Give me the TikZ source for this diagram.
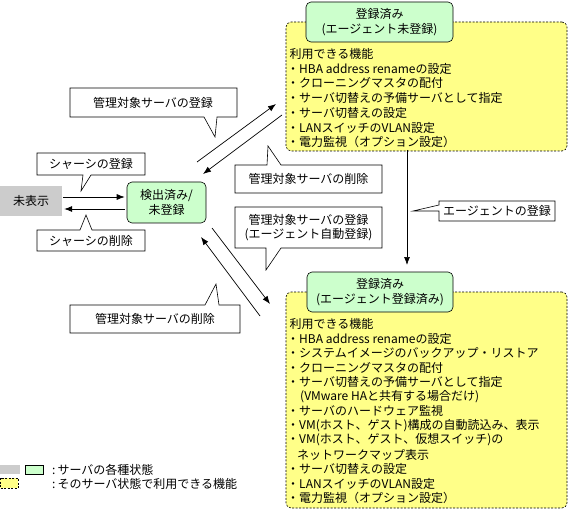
\documentclass[tikz,border=0pt]{standalone}
\usepackage{fontspec}
\setmainfont{Noto Sans CJK JP}
\usetikzlibrary{arrows.meta}
\definecolor{stgreen}{HTML}{CCFFCC}
\definecolor{fnyellow}{HTML}{FFFF88}
\definecolor{stgray}{HTML}{CCCCCC}
\begin{document}
\begin{tikzpicture}[x=1pt,y=-1pt,
  txt/.style={font=\fontsize{12}{14.5}\selectfont, inner sep=0pt},
  item/.style={txt, anchor=west},
  callout/.style={draw, fill=white, line width=0.6pt, line join=miter},
  arr/.style={-{Latex[length=8pt,width=6pt]}, line width=0.7pt},
  statebox/.style={draw, fill=stgreen, rounded corners=5pt, line width=0.6pt, txt, align=center},
  funcbox/.style={draw, dash pattern=on 2pt off 1.5pt, fill=fnyellow, rounded corners=5pt, line width=0.6pt, inner sep=0pt}]
\useasboundingbox (0,0) rectangle (569,510);

% ---------- state boxes ----------
\node[fill=stgray, minimum width=62pt, minimum height=30pt, inner sep=0pt, txt] (mihyoji) at (31,201) {未表示};
\node[statebox, minimum width=79pt, minimum height=41pt, inner sep=0pt] (det) at (166.5,202.5) {検出済み/\\未登録};

% ---------- top function box ----------
\node[funcbox, minimum width=281pt, minimum height=129pt] (fn1) at (426.5,86.5) {};
\node[statebox, minimum width=147pt, minimum height=40pt, inner sep=0pt] (reg1) at (379.5,22) {登録済み\\(エージェント未登録)};
\node[item] (t1) at (289.5,54) {利用できる機能};
\node[item] (t2) at (287,68.7) {・HBA address renameの設定};
\node[item] (t3) at (287,83.4) {・クローニングマスタの配付};
\node[item] (t4) at (287,98.1) {・サーバ切替えの予備サーバとして指定};
\node[item] (t5) at (287,112.8) {・サーバ切替えの設定};
\node[item] (t6) at (287,127.5) {・LANスイッチのVLAN設定};
\node[item] (t7) at (287,142.2) {・電力監視（オプション設定）};

% ---------- bottom function box ----------
\node[funcbox, minimum width=281pt, minimum height=216pt] (fn2) at (426.5,400) {};
\node[statebox, minimum width=146pt, minimum height=40pt, inner sep=0pt] (reg2) at (380,292) {登録済み\\(エージェント登録済み)};
\node[item] (b1) at (289.5,324) {利用できる機能};
\node[item] (b2) at (287,338.5) {・HBA address renameの設定};
\node[item] (b3) at (287,353) {・システムイメージのバックアップ・リストア};
\node[item] (b4) at (287,367.5) {・クローニングマスタの配付};
\node[item] (b5) at (287,382) {・サーバ切替えの予備サーバとして指定};
\node[item] (b6) at (300,396.5) {(VMware HAと共有する場合だけ)};
\node[item] (b7) at (287,411) {・サーバのハードウェア監視};
\node[item] (b8) at (287,425.5) {・VM(ホスト、ゲスト)構成の自動読込み、表示};
\node[item] (b9) at (287,440) {・VM(ホスト、ゲスト、仮想スイッチ)の};
\node[item] (b10) at (297,454.5) {ネットワークマップ表示};
\node[item] (b11) at (287,469) {・サーバ切替えの設定};
\node[item] (b12) at (287,483.5) {・LANスイッチのVLAN設定};
\node[item] (b13) at (287,498) {・電力監視（オプション設定）};

% ---------- arrows ----------
\draw[arr] ([yshift=4pt,xshift=1pt]mihyoji.east) -- ([yshift=4pt,xshift=-2pt]mihyoji.east -| det.west);
\draw[arr] ([yshift=-8pt,xshift=-2pt]mihyoji.east -| det.west) -- ([yshift=-8pt,xshift=2pt]mihyoji.east);

\coordinate (a1s) at (197,162);
\coordinate (a1e) at (276,104);
\coordinate (a2s) at (282,115);
\coordinate (a2e) at (203,174);
\coordinate (a3s) at (212,228);
\coordinate (a3e) at (270,304);
\coordinate (a4s) at (260,316);
\coordinate (a4e) at (201,237);
\coordinate (vs) at (407,150);
\coordinate (ve) at (407,265);
\draw[arr] (a1s) -- (a1e);
\draw[arr] (a2s) -- (a2e);
\draw[arr] (a3s) -- (a3e);
\draw[arr] (a4s) -- (a4e);
\draw[arr] (vs) -- (ve);

% ---------- callouts ----------
\draw[callout] (70,88) -- (237,88) -- (237,117) -- (217,117) -- (215,137) -- (204,117) -- (70,117) -- cycle;
\node[txt] (cA) at (153,102.5) {管理対象サーバの登録};

\draw[callout] (37,153) -- (145,153) -- (145,175) -- (91,175) -- (81,191) -- (83,175) -- (37,175) -- cycle;
\node[txt] (cB) at (91,164) {シャーシの登録};

\draw[callout] (37,230) -- (80,230) -- (86,215) -- (92,230) -- (145,230) -- (145,251) -- (37,251) -- cycle;
\node[txt] (cC) at (91,240.5) {シャーシの削除};

\draw[callout] (70,305) -- (205,305) -- (216,284) -- (219,305) -- (240,305) -- (240,333) -- (70,333) -- cycle;
\node[txt] (cD) at (155,319) {管理対象サーバの削除};

\draw[callout] (235,165) -- (267,165) -- (268,146) -- (281,165) -- (382,165) -- (382,193) -- (235,193) -- cycle;
\node[txt] (cE) at (308.5,179) {管理対象サーバの削除};

\draw[callout] (235,207) -- (382,207) -- (382,248) -- (281,248) -- (266,270) -- (266,248) -- (235,248) -- cycle;
\node[txt, align=center] (cF) at (308.5,227.5) {管理対象サーバの登録\\(エージェント自動登録)};

\draw[callout] (439,201) -- (555,201) -- (555,221) -- (439,221) -- (439,211) -- (413,211) -- (439,205) -- cycle;
\node[txt] (cG) at (497,211) {エージェントの登録};

% ---------- legend ----------
\fill[stgray] (0,465) rectangle (20,474);
\draw[fill=stgreen, line width=0.6pt] (25,465) rectangle (43,474);
\draw[fill=fnyellow, dash pattern=on 2pt off 1.5pt, line width=0.6pt] (0,478) rectangle (18,488);
\node[item] (l1) at (52,469.5) {:\,サーバの各種状態};
\node[item] (l2) at (52,483.5) {:\,そのサーバ状態で利用できる機能};
\end{tikzpicture}
\end{document}
